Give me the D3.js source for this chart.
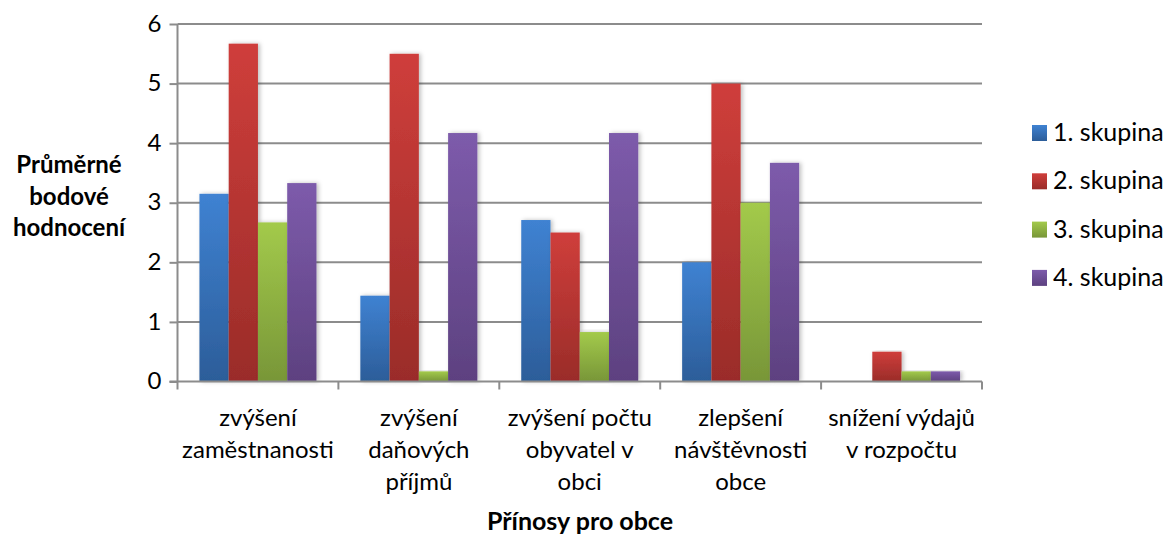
<!DOCTYPE html>
<html>
<head>
<meta charset="utf-8">
<script src="https://cdn.jsdelivr.net/npm/d3@7"></script>
<style>
body { margin: 0; background: #fff; }
text { font-family: Lato, "Open Sans", sans-serif; fill: #000; }
</style>
</head>
<body>
<script>
// kategorie (přínosy) a hodnoty skupin
var categories = [
    ["zvýšení", "zaměstnanosti"],
    ["zvýšení", "daňových", "příjmů"],
    ["zvýšení počtu", "obyvatel v", "obci"],
    ["zlepšení", "návštěvnosti", "obce"],
    ["snížení výdajů", "v rozpočtu"]
];
var seriesNames = ["1. skupina", "2. skupina", "3. skupina", "4. skupina"];
var skupina1 = [3.15, 1.44, 2.71, 2.0, 0];
var skupina2 = [5.67, 5.5, 2.5, 5.0, 0.5];
var skupina3 = [2.67, 0.17, 0.83, 3.0, 0.17];
var skupina4 = [3.33, 4.17, 4.17, 3.67, 0.17];
var yTicks = [0, 1, 2, 3, 4, 5, 6];

var series = [skupina1, skupina2, skupina3, skupina4];
// barvy: horní a spodní konec přechodu
var colors = [
    ["#3f82d2", "#2c5d99"],
    ["#cf3e3b", "#9a2c29"],
    ["#a3ca4b", "#789638"],
    ["#7d5bab", "#5d4180"]
];

var svg = d3.select("body").append("svg").attr("width", 1165).attr("height", 535);
var margin = { top: 24, left: 177.5, right: 183, bottom: 153.5 };
var width = 1165 - margin.left - margin.right;
var height = 535 - margin.top - margin.bottom;

var defs = svg.append("defs");
colors.forEach(function (c, i) {
    var grad = defs.append("linearGradient").attr("id", "grad" + i)
        .attr("x1", 0).attr("y1", 0).attr("x2", 0).attr("y2", 1);
    grad.append("stop").attr("offset", "0%").attr("stop-color", c[0]);
    grad.append("stop").attr("offset", "100%").attr("stop-color", c[1]);
});
var filter = defs.append("filter").attr("id", "shadow")
    .attr("x", "-20%").attr("y", "-5%").attr("width", "150%").attr("height", "110%");
filter.append("feDropShadow").attr("dx", 2).attr("dy", 0).attr("stdDeviation", 2)
    .attr("flood-color", "#000").attr("flood-opacity", 0.25);

var g = svg.append("g").attr("transform", "translate(" + margin.left + "," + margin.top + ")");

var x0 = d3.scaleBand().domain(d3.range(categories.length)).range([0, width])
    .paddingInner(0).paddingOuter(0);
var gap = x0.bandwidth() / 5.5 * 0.75;
var x1 = d3.scaleBand().domain(d3.range(series.length)).range([gap, x0.bandwidth() - gap]);
var y = d3.scaleLinear().domain([0, 6]).range([height, 0]);

// mřížka
g.append("g").selectAll("line").data(yTicks.filter(function (d) { return d > 0; })).enter()
    .append("line")
    .attr("x1", 0).attr("x2", width)
    .attr("y1", function (d) { return y(d); }).attr("y2", function (d) { return y(d); })
    .attr("stroke", "#8c8c8c").attr("stroke-width", 2);

// sloupce
var groups = g.selectAll(".grp").data(categories).enter().append("g")
    .attr("class", "grp")
    .attr("transform", function (d, i) { return "translate(" + x0(i) + ",0)"; });
groups.selectAll("rect")
    .data(function (d, i) { return series.map(function (s, j) { return { s: j, v: s[i] }; }); })
    .enter().append("rect")
    .filter(function (d) { return d.v > 0; })
    .attr("x", function (d) { return x1(d.s); })
    .attr("width", x1.bandwidth())
    .attr("y", function (d) { return y(d.v); })
    .attr("height", function (d) { return y(0) - y(d.v); })
    .attr("fill", function (d) { return "url(#grad" + d.s + ")"; })
    .attr("filter", "url(#shadow)");

// osa y
var yAxis = g.append("g").call(d3.axisLeft(y).tickValues(yTicks).tickFormat(d3.format("d"))
    .tickSize(8).tickPadding(8));
yAxis.select(".domain").attr("stroke", "#8c8c8c").attr("stroke-width", 2)
    .attr("d", "M0," + y(0) + "V" + y(6));
yAxis.selectAll(".tick line").attr("stroke", "#8c8c8c").attr("stroke-width", 2);
yAxis.selectAll(".tick text").style("font-size", "24px").attr("fill", "#000").attr("dy", "0.3em");

// osa x
var xg = g.append("g").attr("transform", "translate(0," + height + ")");
xg.append("line").attr("x1", -8).attr("x2", width).attr("stroke", "#8c8c8c").attr("stroke-width", 2);
xg.selectAll(".xt").data(d3.range(categories.length + 1)).enter().append("line")
    .attr("x1", function (d) { return d * x0.bandwidth(); })
    .attr("x2", function (d) { return d * x0.bandwidth(); })
    .attr("y1", 0).attr("y2", 8)
    .attr("stroke", "#8c8c8c").attr("stroke-width", 2);
xg.selectAll(".xl").data(categories).enter().append("text")
    .attr("text-anchor", "middle")
    .attr("transform", function (d, i) { return "translate(" + (x0(i) + x0.bandwidth() / 2) + ",44)"; })
    .style("font-size", "24px")
    .selectAll("tspan").data(function (d) { return d; }).enter().append("tspan")
    .attr("x", 0).attr("dy", function (d, i) { return i === 0 ? 0 : 32; })
    .text(function (d) { return d; });

// názvy os
svg.append("text").attr("x", 580).attr("y", 530).attr("text-anchor", "middle")
    .style("font-size", "25px").style("font-weight", "bold").text("Přínosy pro obce");
var yt = svg.append("text").attr("text-anchor", "middle")
    .style("font-size", "24px").style("font-weight", "bold");
["Průměrné", "bodové", "hodnocení"].forEach(function (t, i) {
    yt.append("tspan").attr("x", 69).attr("y", 173 + i * 31.5).text(t);
});

// legenda
var leg = svg.append("g").attr("transform", "translate(1032,125)");
var li = leg.selectAll("g").data(seriesNames).enter().append("g")
    .attr("transform", function (d, i) { return "translate(0," + i * 48.3 + ")"; });
li.append("rect").attr("width", 15).attr("height", 16)
    .attr("fill", function (d, i) { return "url(#grad" + i + ")"; });
li.append("text").attr("x", 21).attr("y", 16).style("font-size", "25px")
    .text(function (d) { return d; });
</script>
</body>
</html>
